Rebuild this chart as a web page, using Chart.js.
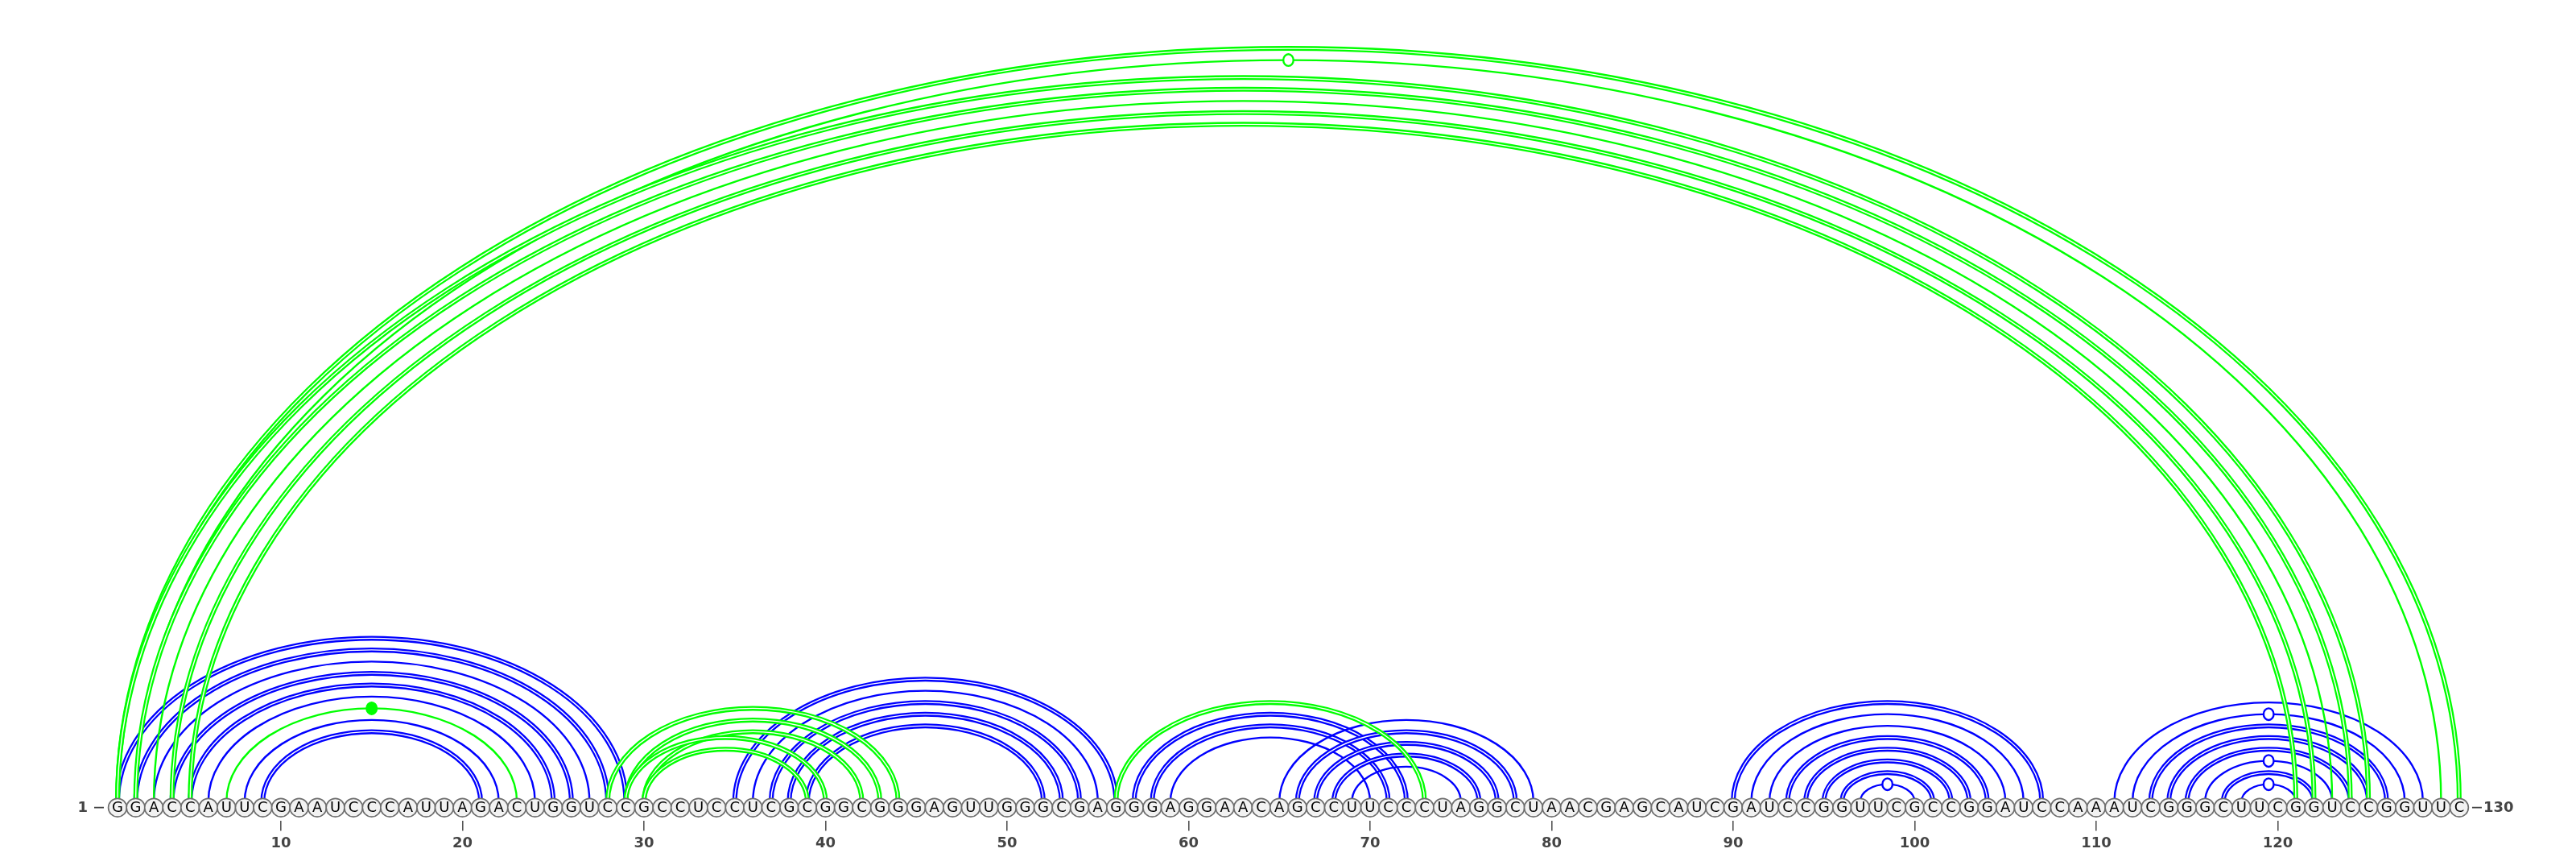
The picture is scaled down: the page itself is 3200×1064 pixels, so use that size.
<!DOCTYPE html>
<html>
<head>
<meta charset="utf-8">
<title>Arc diagram</title>
<script src="https://cdn.jsdelivr.net/npm/chart.js@4.4.1/dist/chart.umd.min.js"></script>
<style>
  html, body { margin: 0; padding: 0; background: #fff; }
  #wrap { width: 3200px; height: 1064px; position: relative; }
</style>
</head>
<body>
<div id="wrap"><canvas id="arcChart"></canvas></div>
<script>
// Sequence (positions 1..130)
const sequence = 'GGACCAUUCGAAUCCCAUUAGACUGGUCCGCCUCCUCGCGGCGGGAGUUGGGCGAGGGAGGAACAGCCUUCCCUAGGCUAACGAGCAUCGAUCCGGUUCGCCGGAUCCAAAUCGGGCUUCGGUCCGGUUC'.split('');
const positions = sequence.map((b, i) => i + 1);
const tickValues = [10, 20, 30, 40, 50, 60, 70, 80, 90, 100, 110, 120];

// Blue structure: 5' side and 3' side of each pair
const blueOpen  = [1, 2, 3, 4, 5, 6, 8, 9, 35, 36, 37, 38, 39, 57, 58, 59, 65, 66, 67, 68, 69,
                   90, 91, 92, 93, 94, 95, 96, 97, 111, 112, 113, 114, 115, 116, 117, 118];
const blueClose = [29, 28, 27, 26, 25, 24, 22, 21, 56, 55, 54, 53, 52, 72, 71, 70, 79, 78, 77, 76, 75,
                   107, 106, 105, 104, 103, 102, 101, 100, 128, 127, 126, 125, 124, 123, 122, 121];

// Green structure
const greenOpen  = [1, 2, 1, 2, 3, 4, 5, 7, 28, 29, 30, 29, 30, 56];
const greenClose = [130, 129, 125, 124, 123, 122, 121, 23, 44, 43, 42, 40, 39, 73];

const BLUE = '#0000ff';
const GREEN = '#00ff00';
const ARC_BASE = 0.33;    // arcs start slightly above the bead centres
const ARC_RATIO = 0.655;  // height / half-width of each arc

function pairKind(a, b) {
  const p = sequence[a - 1] + sequence[b - 1];
  if (p === 'GC' || p === 'CG') return 'gc';
  if (p === 'AU' || p === 'UA') return 'au';
  if (p === 'GU' || p === 'UG') return 'gu';
  return 'other';
}

const arcPlugin = {
  id: 'arcs',
  beforeDatasetsDraw(chart) {
    const { ctx, scales: { x, y } } = chart;
    const base = y.getPixelForValue(ARC_BASE);

    const drawSet = (opens, closes, color) => {
      opens.forEach((a, k) => {
        const b = closes[k];
        const cx = x.getPixelForValue((a + b) / 2);
        const rx = x.getPixelForValue(b) - cx;
        const ry = base - y.getPixelForValue(ARC_BASE + ARC_RATIO * (b - a) / 2);
        const kind = pairKind(a, b);

        ctx.save();
        ctx.beginPath();
        ctx.ellipse(cx, base, rx, ry, 0, Math.PI, 2 * Math.PI);
        ctx.strokeStyle = color;
        if (kind === 'gc') {
          // G-C pairs are drawn as a double line
          ctx.lineWidth = 6;
          ctx.stroke();
          ctx.strokeStyle = '#ffffff';
          ctx.lineWidth = 1.4;
          ctx.stroke();
        } else {
          ctx.lineWidth = 2.4;
          ctx.stroke();
        }

        // marker at the top of wobble / non-canonical pairs
        if (kind === 'gu' || kind === 'other') {
          ctx.beginPath();
          ctx.ellipse(cx, base - ry, 6.3, 7.3, 0, 0, 2 * Math.PI);
          ctx.fillStyle = kind === 'gu' ? '#ffffff' : color;
          ctx.fill();
          ctx.lineWidth = 2.4;
          ctx.strokeStyle = color;
          ctx.stroke();
        }
        ctx.restore();
      });
    };

    drawSet(blueOpen, blueClose, BLUE);
    drawSet(greenOpen, greenClose, GREEN);
  },
  afterDatasetsDraw(chart) {
    const { ctx, scales: { x, y } } = chart;
    const cy = y.getPixelForValue(0);
    ctx.save();
    ctx.fillStyle = '#000';
    ctx.font = '18px "DejaVu Sans"';
    ctx.textAlign = 'center';
    ctx.textBaseline = 'middle';
    sequence.forEach((b, i) => ctx.fillText(b, x.getPixelForValue(i + 1), cy + 1));

    // end labels "1 —" and "—130"
    const first = x.getPixelForValue(1);
    const last = x.getPixelForValue(positions.length);
    ctx.fillStyle = '#444';
    ctx.strokeStyle = '#444';
    ctx.lineWidth = 1.8;
    ctx.font = 'bold 18px "DejaVu Sans"';
    ctx.textAlign = 'right';
    ctx.fillText('1', first - 37, cy + 1);
    ctx.textAlign = 'left';
    ctx.fillText(String(positions.length), last + 30, cy + 1);
    ctx.beginPath();
    ctx.moveTo(first - 29, cy); ctx.lineTo(first - 17, cy);
    ctx.moveTo(last + 16, cy); ctx.lineTo(last + 28, cy);
    ctx.stroke();
    ctx.restore();
  }
};

new Chart(document.getElementById('arcChart'), {
  type: 'scatter',
  data: {
    datasets: [{
      label: 'sequence',
      data: positions.map(p => ({ x: p, y: 0 })),
      pointRadius: 11.4,
      pointHoverRadius: 11.4,
      pointBackgroundColor: '#f2f2f2',
      pointBorderColor: '#6e6e6e',
      pointBorderWidth: 1.7,
      clip: false
    }]
  },
  options: {
    responsive: true,
    maintainAspectRatio: false,
    animation: false,
    events: [],
    layout: { padding: { left: 55.8, right: 54.85, top: 0, bottom: 1 } },
    plugins: {
      legend: { display: false },
      tooltip: { enabled: false }
    },
    scales: {
      x: {
        type: 'linear',
        position: 'bottom',
        min: -3,
        max: 134,
        afterBuildTicks: scale => { scale.ticks = tickValues.map(v => ({ value: v })); },
        grid: { drawOnChartArea: false, drawTicks: true, tickLength: 12, color: '#555', lineWidth: 1.6 },
        border: { display: false },
        ticks: {
          autoSkip: false,
          maxRotation: 0,
          padding: 5,
          color: '#444',
          font: { family: 'DejaVu Sans', size: 18, weight: 'bold' }
        }
      },
      y: {
        display: false,
        min: -0.754,
        max: 44.70
      }
    }
  },
  plugins: [arcPlugin]
});
</script>
</body>
</html>
